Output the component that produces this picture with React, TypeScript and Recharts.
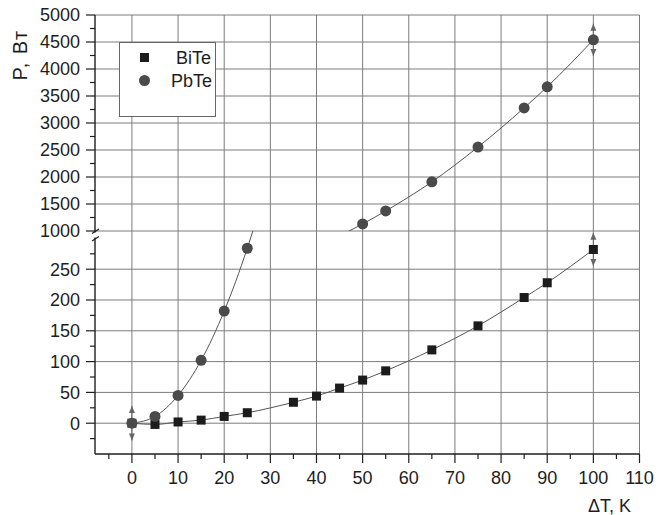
import {
  ComposedChart,
  Line,
  Scatter,
  XAxis,
  YAxis,
  ReferenceLine,
  ErrorBar,
  Legend,
} from "recharts";

// measured points, ΔT in K, P in W
const biteX = [0, 5, 10, 15, 20, 25, 35, 40, 45, 50, 55, 65, 75, 85, 90, 100];
const biteP = [0, -2, 2, 5, 11, 17, 34, 44, 57, 70, 85, 119, 158, 204, 228, 282];
const pbteX = [0, 5, 10, 15, 20, 25, 50, 55, 65, 75, 85, 90, 100];
const pbteP = [0, 11, 45, 102, 182, 284, 1130, 1372, 1910, 2555, 3280, 3670, 4540];

// error bars (arrows)
const lowErrX = [0, 100];
const lowErrY = [0, 282];
const lowErr = [28, 27];
const upErrX = [100];
const upErrY = [4540];
const upErr = [300];

const xTicks = [-5, 0, 5, 10, 15, 20, 25, 30, 35, 40, 45, 50, 55, 60, 65, 70, 75, 80, 85, 90, 95, 100, 105, 110];
const xGrid = [0, 10, 20, 30, 40, 50, 60, 70, 80, 90, 100, 110];
const upperTicks = [1000, 1250, 1500, 1750, 2000, 2250, 2500, 2750, 3000, 3250, 3500, 3750, 4000, 4250, 4500, 4750, 5000];
const upperGrid = [1000, 1500, 2000, 2500, 3000, 3500, 4000, 4500, 5000];
const lowerTicks = [-25, 0, 25, 50, 75, 100, 125, 150, 175, 200, 225, 250, 275];
const lowerGrid = [0, 50, 100, 150, 200, 250];

const bite = biteX.map((x, i) => ({ x, y: biteP[i] }));
const pbte = pbteX.map((x, i) => ({ x, y: pbteP[i] }));
const lowErrData = lowErrX.map((x, i) => ({ x, y: lowErrY[i], err: lowErr[i] }));
const upErrData = upErrX.map((x, i) => ({ x, y: upErrY[i], err: upErr[i] }));

const FONT = "'Liberation Sans', Arial, sans-serif";
const GRID = "#7c7c7c";
const AXIS = "#1e1e1e";
const TXT = "#1e1e1e";

const Square = (p: any) => (
  <rect x={p.cx - 4.5} y={p.cy - 4.5} width={9} height={9} fill="#1c1c1c" />
);
const Dot = (p: any) => <circle cx={p.cx} cy={p.cy} r={5.5} fill="#4a4a4a" />;
const Empty = () => <g />;
const ArrowUp = (p: any) => (
  <polygon points={`${p.cx},${p.cy} ${p.cx - 3},${p.cy + 7} ${p.cx + 3},${p.cy + 7}`} fill="#666" />
);
const ArrowDown = (p: any) => (
  <polygon points={`${p.cx},${p.cy} ${p.cx - 3},${p.cy - 7} ${p.cx + 3},${p.cy - 7}`} fill="#666" />
);

function YTick(props: any) {
  const { x, y, payload, major } = props;
  const isMajor = major(payload.value);
  return (
    <g>
      <line x1={x - (isMajor ? 9 : 5)} x2={x} y1={y} y2={y} stroke={AXIS} strokeWidth={1.2} />
      {isMajor && (
        <text x={x - 15} y={y} dy="0.36em" textAnchor="end" fontSize={18} fontFamily={FONT} fill={TXT}>
          {payload.value}
        </text>
      )}
    </g>
  );
}

function XTick(props: any) {
  const { x, y, payload } = props;
  const v = payload.value;
  const isMajor = v % 10 === 0;
  return (
    <g>
      <line x1={x} x2={x} y1={y} y2={y + (isMajor ? 9 : 5)} stroke={AXIS} strokeWidth={1.2} />
      {isMajor && (
        <text x={x} y={y + 29.5} textAnchor="middle" fontSize={18} fontFamily={FONT} fill={TXT}>
          {v}
        </text>
      )}
    </g>
  );
}

function LegendBox() {
  return (
    <div style={{ width: 97, height: 75, background: "#fff", border: "1px solid #666", boxSizing: "border-box" }}>
      <svg width={95} height={73}>
        <rect x={20} y={10} width={9} height={9} fill="#1c1c1c" />
        <text x={91} y={20.5} textAnchor="end" fontSize={18} fontFamily={FONT} fill={TXT}>BiTe</text>
        <circle cx={24.5} cy={37.5} r={5.5} fill="#4a4a4a" />
        <text x={92} y={43.5} textAnchor="end" fontSize={18} fontFamily={FONT} fill={TXT}>PbTe</text>
      </svg>
    </div>
  );
}

const W = 669;

export default function App() {
  return (
    <div style={{ position: "absolute", left: 0, top: 0, width: W, height: 515, background: "#fff" }}>
      <div style={{ position: "absolute", left: 0, top: 0 }}>
        <ComposedChart width={W} height={252} margin={{ top: 15, right: 29.5, bottom: 21, left: 0 }}>
          <XAxis type="number" dataKey="x" domain={[-8, 110]} allowDataOverflow hide />
          <YAxis
            type="number"
            dataKey="y"
            width={95}
            domain={[1000, 5000]}
            allowDataOverflow
            ticks={upperTicks}
            interval={0}
            tickSize={0}
            tickMargin={0}
            tickLine={false}
            axisLine={{ stroke: AXIS, strokeWidth: 1.4 }}
            tick={<YTick major={(v: number) => v % 500 === 0} />}
            label={(p: any) => (
              <text
                x={27}
                y={p.viewBox.y + 40}
                transform={`rotate(-90, 27, ${p.viewBox.y + 40})`}
                textAnchor="middle"
                fontSize={20}
                letterSpacing={1.5}
                fontFamily={FONT}
                fill={TXT}
              >
                P, Вт
              </text>
            )}
          />
          {upperGrid.map((v) => (
            <ReferenceLine key={"uy" + v} y={v} stroke={GRID} strokeWidth={1} />
          ))}
          {xGrid.map((v) => (
            <ReferenceLine key={"ux" + v} x={v} stroke={GRID} strokeWidth={1} />
          ))}
          <Line data={pbte} dataKey="y" type="monotone" stroke="#555" strokeWidth={1} dot={false} isAnimationActive={false} />
          <Scatter data={pbte.filter((d) => d.y >= 1000)} shape={Dot} isAnimationActive={false} />
          <Scatter data={upErrData} shape={Empty} isAnimationActive={false}>
            <ErrorBar dataKey="err" direction="y" width={0} stroke="#666" strokeWidth={1} />
          </Scatter>
          <Scatter data={upErrData.map((d) => ({ x: d.x, y: d.y + d.err }))} shape={ArrowUp} isAnimationActive={false} />
          <Scatter data={upErrData.map((d) => ({ x: d.x, y: d.y - d.err }))} shape={ArrowDown} isAnimationActive={false} />
          <Legend
            layout="vertical"
            align="center"
            verticalAlign="middle"
            content={() => <LegendBox />}
            wrapperStyle={{ position: "absolute", left: 119, top: 42, width: 97, height: 75 }}
          />
        </ComposedChart>
      </div>
      <div style={{ position: "absolute", left: 0, top: 0 }}>
        <ComposedChart width={W} height={515} margin={{ top: 231, right: 29.5, bottom: 0, left: 0 }}>
          <XAxis
            type="number"
            dataKey="x"
            domain={[-8, 110]}
            allowDataOverflow
            ticks={xTicks}
            interval={0}
            height={61}
            tickSize={0}
            tickMargin={0}
            tickLine={false}
            axisLine={{ stroke: AXIS, strokeWidth: 1.4 }}
            tick={<XTick />}
            label={(p: any) => (
              <text
                x={p.viewBox.x + p.viewBox.width - 8.5}
                y={p.viewBox.y + 57.5}
                textAnchor="end"
                fontSize={18}
                fontFamily={FONT}
                fill={TXT}
              >
                ΔT, K
              </text>
            )}
          />
          <YAxis
            type="number"
            dataKey="y"
            width={95}
            domain={[-50, 312]}
            allowDataOverflow
            ticks={lowerTicks}
            interval={0}
            tickSize={0}
            tickMargin={0}
            tickLine={false}
            axisLine={{ stroke: AXIS, strokeWidth: 1.4 }}
            tick={<YTick major={(v: number) => v >= 0 && v % 50 === 0} />}
          />
          {lowerGrid.map((v) => (
            <ReferenceLine key={"ly" + v} y={v} stroke={GRID} strokeWidth={1} />
          ))}
          {xGrid.map((v) => (
            <ReferenceLine key={"lx" + v} x={v} stroke={GRID} strokeWidth={1} />
          ))}
          <Line data={bite} dataKey="y" type="monotone" stroke="#555" strokeWidth={1} dot={false} isAnimationActive={false} />
          <Line data={pbte} dataKey="y" type="monotone" stroke="#555" strokeWidth={1} dot={false} isAnimationActive={false} />
          <Scatter data={bite} shape={Square} isAnimationActive={false} />
          <Scatter data={pbte.filter((d) => d.y <= 300)} shape={Dot} isAnimationActive={false} />
          <Scatter data={lowErrData} shape={Empty} isAnimationActive={false}>
            <ErrorBar dataKey="err" direction="y" width={0} stroke="#666" strokeWidth={1} />
          </Scatter>
          <Scatter data={lowErrData.map((d) => ({ x: d.x, y: d.y + d.err }))} shape={ArrowUp} isAnimationActive={false} />
          <Scatter data={lowErrData.map((d) => ({ x: d.x, y: d.y - d.err }))} shape={ArrowDown} isAnimationActive={false} />
        </ComposedChart>
      </div>
      {/* axis break mark */}
      <svg style={{ position: "absolute", left: 0, top: 0 }} width={W} height={260}>
        <rect x={92} y={232.5} width={7} height={5} fill="#fff" />
        <line x1={92} y1={233.5} x2={99} y2={229} stroke={AXIS} strokeWidth={1.2} />
        <line x1={92} y1={241} x2={99} y2={236.5} stroke={AXIS} strokeWidth={1.2} />
      </svg>
    </div>
  );
}
